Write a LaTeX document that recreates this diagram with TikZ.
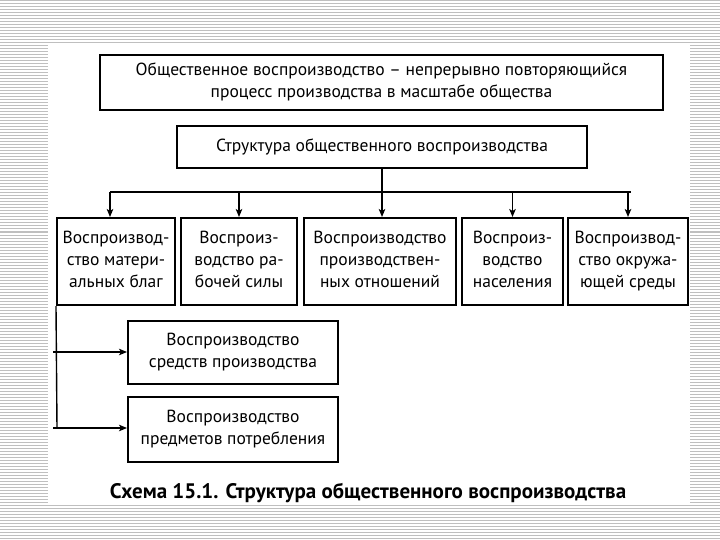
\documentclass[tikz,border=0pt]{standalone}
\usepackage{fontspec}
\setmainfont{PT Sans}
\usetikzlibrary{arrows.meta}
\begin{document}
\begin{tikzpicture}[x=1pt,y=-1pt,
  stripe/.style={draw=black!25,line width=1pt},
  box/.style={draw=black,line width=2pt,inner sep=0pt,align=center,
    font=\fontsize{17.5}{22}\selectfont},
  conn/.style={draw=black,line width=1.4pt},
  arr/.style={conn,-{Stealth[length=8pt,width=6.5pt,inset=2pt]}}]
\useasboundingbox (0,0) rectangle (720,540);
\foreach \y in {1,4,...,540} \draw[stripe] (0,\y) -- (720,\y);
\fill[white] (48,45) rectangle (690,505);
\node[box,minimum width=563pt,minimum height=55pt] (top) at (381.5,82.5)
  {\strut Общественное воспроизводство – непрерывно повторяющийся\\процесс производства в масштабе общества\strut};
\node[box,minimum width=410pt,minimum height=42pt] (str) at (382,147)
  {\strut Структура общественного воспроизводства};
\node[box,minimum width=118pt,minimum height=87pt] (b1) at (116,261.5)
  {\strut Воспроизвод-\\ство матери-\\альных благ\strut};
\node[box,minimum width=116pt,minimum height=87pt] (b2) at (239,261.5)
  {\strut Воспроиз-\\водство ра-\\бочей силы\strut};
\node[box,minimum width=152pt,minimum height=87pt] (b3) at (380,261.5)
  {\strut Воспроизводство\\производствен-\\ных отношений\strut};
\node[box,minimum width=101pt,minimum height=87pt] (b4) at (512.5,261.5)
  {\strut Воспроиз-\\водство\\населения\strut};
\node[box,minimum width=120pt,minimum height=87pt] (b5) at (628,261.5)
  {\strut Воспроизвод-\\ство окружа-\\ющей среды\strut};
\node[box,minimum width=210pt,minimum height=63pt] (sa) at (233,352.5)
  {\strut Воспроизводство\\средств производства\strut};
\node[box,minimum width=210pt,minimum height=65pt] (sb) at (233,429.5)
  {\strut Воспроизводство\\предметов потребления\strut};
\node[font=\fontsize{21}{24}\selectfont\bfseries] (cap) at (368,493)
  {Схема 15.1. Структура общественного воспроизводства};
\coordinate (busL) at (110,192);
\coordinate (busR) at (631,192);
\draw[conn] (busL) -- (busR);
\draw[conn] (str.south) -- (str.south |- busL);
\draw[arr] (busL) -- (busL |- b1.north);
\draw[arr] (b2.north |- busL) -- (b2.north);
\draw[arr] (str.south |- busL) -- (str.south |- b3.north);
\draw[arr] (b4.north |- busL) -- (b4.north);
\draw[arr] (b5.north |- busL) -- (b5.north);
\coordinate (lv) at (57,428);
\draw[conn] (b1.south west) -- (lv);
\coordinate (la) at (53,352);
\coordinate (lb) at (53,428);
\draw[arr] (la) -- (la -| sa.west);
\draw[arr] (lb) -- (lb -| sb.west);
\end{tikzpicture}
\end{document}
